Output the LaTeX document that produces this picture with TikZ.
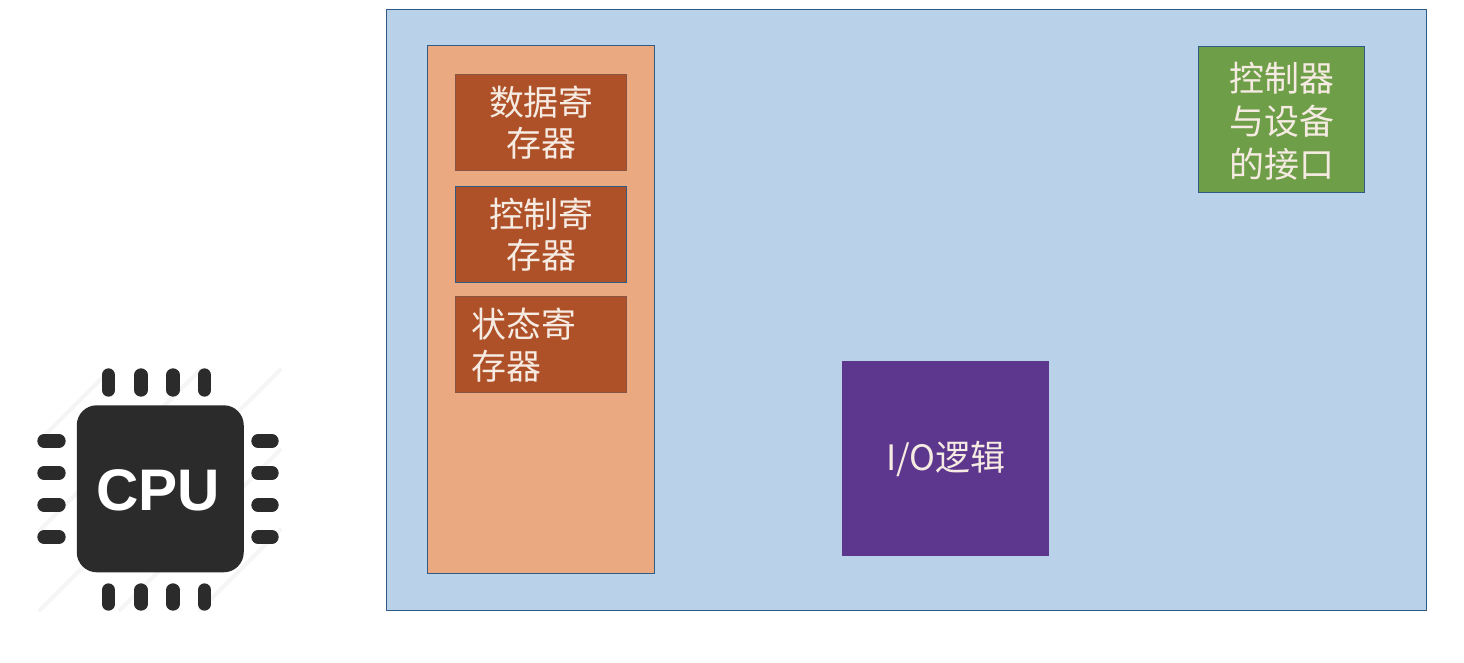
\documentclass[tikz,border=0pt]{standalone}
\usepackage{fontspec}
\setmainfont{Noto Sans CJK SC}
\newfontfamily\cpufont{Liberation Sans}[Scale=1]
\definecolor{panel}{HTML}{B9D1E9}
\definecolor{edge}{HTML}{2F5B84}
\definecolor{peach}{HTML}{EBA981}
\definecolor{rust}{HTML}{AE5128}
\definecolor{leaf}{HTML}{6E9E48}
\definecolor{plum}{HTML}{5D378E}
\definecolor{chip}{HTML}{2B2B2B}
\definecolor{ink}{HTML}{F6EBE2}
\tikzset{
  x=0.75pt,y=-0.75pt,
  box/.style={draw=edge,line width=0.7pt,anchor=north west,inner sep=0pt,outer sep=0pt},
  cjk/.style={text=ink,font=\fontsize{26.2}{31}\selectfont,align=center},
  regbox/.style={box,draw=rust!70!edge,fill=rust,cjk,minimum width=128.25pt,minimum height=72pt},
  pinv/.style={line width=10pt,line cap=round,draw=chip},
  hatch/.style={line width=3pt,draw=black!4,line cap=round}
}
\begin{document}
\begin{tikzpicture}
\useasboundingbox (0,0) rectangle (1464,662);
\fill[white] (0,0) rectangle (1464,662);
% outer panels
\node[box,fill=panel,minimum width=780pt,minimum height=450.75pt] (outer) at (386.9,9.9) {};
\node[box,fill=peach,minimum width=170.25pt,minimum height=396pt] (ctrl) at (427.9,45.9) {};
% registers
\node[regbox] (data) at (455.9,74.9) {数据寄\\存器};
\node[regbox,draw=edge] (cmd) at (455.9,186.9) {控制寄\\存器};
\node[regbox] (stat) at (455.9,296.9) {};
\node[cjk,align=left,anchor=north west,inner sep=0pt] (stattext) at (471,308) {状态寄\\存器};
% right-hand blocks
\node[box,fill=leaf,cjk,font=\fontsize{26.2}{32}\selectfont,minimum width=124.5pt,minimum height=109.5pt,text depth=-2pt] (dev) at (1198.9,46.9) {控制器\\与设备\\的接口};
\node[box,draw=plum,fill=plum,cjk,minimum width=154.5pt,minimum height=145.5pt] (logic) at (842.9,361.9) {I/O逻辑};
% CPU icon
\foreach \a/\b/\c/\d in {40/440/110/370, 40/530/200/370, 40/610/280/370, 120/610/280/450, 200/610/280/530}
  \draw[hatch] (\a,\b) -- (\c,\d);
\foreach \px in {108.5,141,173,204.5}{
  \draw[pinv] (\px,375) -- (\px,390);
  \draw[pinv] (\px,590) -- (\px,604);
}
\foreach \py in {441,473,505,537}{
  \draw[pinv] (44,\py) -- (59,\py);
  \draw[pinv] (258,\py) -- (272,\py);
}
\node[draw=none,fill=chip,rounded corners=15pt,anchor=north west,inner sep=0pt,minimum width=125.25pt,minimum height=125.25pt] (cpu) at (76.5,405) {};
\node[text=white,font=\cpufont\bfseries\fontsize{44}{44}\selectfont,inner sep=0pt] (cpulabel) at (158,490) {CPU};
\end{tikzpicture}
\end{document}
